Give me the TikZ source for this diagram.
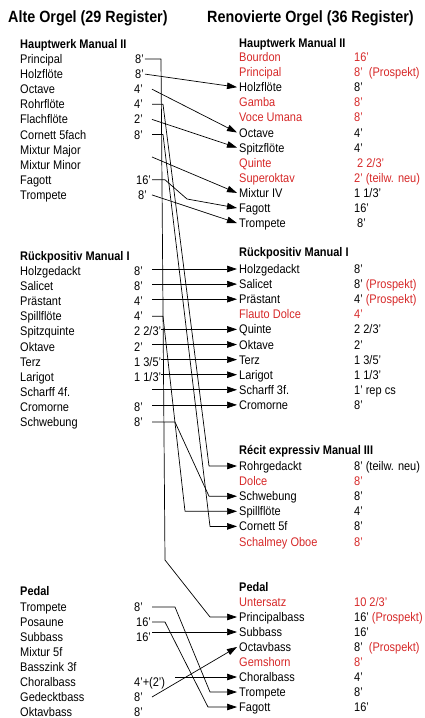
\documentclass[tikz,border=0pt]{standalone}
\usepackage{fontspec}
\setmainfont{Liberation Sans}[FakeStretch=0.88]
\usepackage{tikz}
\usetikzlibrary{arrows.meta}
\definecolor{neurot}{RGB}{214,40,40}

\tikzset{
  reg/.style={anchor=west, inner xsep=0pt, inner ysep=0pt, text height=9pt, text depth=0pt},
  rreg/.style={reg, inner xsep=2pt},
  head/.style={reg, font=\fontsize{12.5}{15}\selectfont\bfseries},
  titel/.style={reg, text height=11.7pt, font=\fontsize{16.3}{19}\selectfont\bfseries},
  neu/.style={text=neurot},
  zug/.style={-{Triangle[length=10pt,width=6.5pt]}, line width=0.7pt, line join=round},
}

\begin{document}
\begin{tikzpicture}[x=1pt, y=-1pt, font=\fontsize{12.5}{15}\selectfont]
\useasboundingbox (0,0) rectangle (425,718);

% titles
\node[titel] (tAlt) at (8,17) {Alte Orgel (29 Register)};
\node[titel] (tNeu) at (207,17) {Renovierte Orgel (36 Register)};

% old organ, Hauptwerk
\node[head] (lhw) at (20,44) {Hauptwerk Manual II};
\node[reg] (lhw1) at (20,59) {Principal};        \node[reg, inner xsep=1pt] (lhw1v) at (134,59) {8'};
\node[reg] (lhw2) at (20,74.1) {Holzflöte};      \node[reg, inner xsep=1pt] (lhw2v) at (134,74.1) {8'};
\node[reg] (lhw3) at (20,89.2) {Octave};         \node[reg] (lhw3v) at (134,89.2) {4'};
\node[reg] (lhw4) at (20,104.3) {Rohrflöte};     \node[reg] (lhw4v) at (134,104.3) {4'};
\node[reg] (lhw5) at (20,119.4) {Flachflöte};    \node[reg] (lhw5v) at (134,119.4) {2'};
\node[reg] (lhw6) at (20,134.5) {Cornett 5fach}; \node[reg] (lhw6v) at (134,134.5) {8'};
\node[reg] (lhw7) at (20,149.6) {Mixtur Major};
\node[reg] (lhw8) at (20,164.7) {Mixtur Minor};
\node[reg] (lhw9) at (20,179.8) {Fagott};        \node[reg] (lhw9v) at (136,179.8) {16'};
\node[reg] (lhw10) at (20,194.9) {Trompete};     \node[reg] (lhw10v) at (138,194.9) {8'};
\coordinate (lmix) at (152,157);

% old organ, Rueckpositiv
\node[head] (lrp) at (20,256) {Rückpositiv Manual I};
\node[reg] (lrp1) at (20,271) {Holzgedackt};     \node[reg] (lrp1v) at (134,271) {8'};
\node[reg] (lrp2) at (20,286.1) {Salicet};       \node[reg] (lrp2v) at (134,286.1) {8'};
\node[reg] (lrp3) at (20,301.2) {Prästant};      \node[reg] (lrp3v) at (134,301.2) {4'};
\node[reg] (lrp4) at (20,316.3) {Spillflöte};    \node[reg] (lrp4v) at (134,316.3) {4'};
\node[reg] (lrp5) at (20,331.4) {Spitzquinte};   \node[reg] (lrp5v) at (134,331.4) {2 2/3'};
\node[reg] (lrp6) at (20,346.5) {Oktave};        \node[reg] (lrp6v) at (134,346.5) {2'};
\node[reg] (lrp7) at (20,361.6) {Terz};          \node[reg] (lrp7v) at (134,361.6) {1 3/5'};
\node[reg] (lrp8) at (20,376.7) {Larigot};       \node[reg] (lrp8v) at (134,376.7) {1 1/3'};
\node[reg] (lrp9) at (20,391.8) {Scharff 4f.};
\node[reg] (lrp10) at (20,406.9) {Cromorne};     \node[reg] (lrp10v) at (134,406.9) {8'};
\node[reg] (lrp11) at (20,422) {Schwebung};      \node[reg] (lrp11v) at (134,422) {8'};

% old organ, Pedal
\node[head] (lpd) at (20,591) {Pedal};
\node[reg] (lpd1) at (20,607) {Trompete};        \node[reg] (lpd1v) at (134,607) {8'};
\node[reg] (lpd2) at (20,622) {Posaune};         \node[reg] (lpd2v) at (136,622) {16'};
\node[reg] (lpd3) at (20,637) {Subbass};         \node[reg] (lpd3v) at (136,637) {16'};
\node[reg] (lpd4) at (20,652) {Mixtur 5f};
\node[reg] (lpd5) at (20,667) {Basszink 3f};
\node[reg] (lpd6) at (20,682) {Choralbass};      \node[reg] (lpd6v) at (134,682) {4'+(2')};
\node[reg] (lpd7) at (20,697) {Gedecktbass};     \node[reg] (lpd7v) at (134,697) {8'};
\node[reg] (lpd8) at (20,712) {Oktavbass};       \node[reg] (lpd8v) at (134,712) {8'};

% new organ, Hauptwerk
\node[head] (rhw) at (239,43) {Hauptwerk Manual II};
\node[rreg, neu] (rhw1) at (237,57) {Bourdon};        \node[reg, neu] (rhw1v) at (354,57) {16'};
\node[rreg, neu] (rhw2) at (237,72.1) {Principal};    \node[reg, neu] (rhw2v) at (354,72.1) {8'\ \ (Prospekt)};
\node[rreg] (rhw3) at (237,87.2) {Holzflöte};         \node[reg] (rhw3v) at (354,87.2) {8'};
\node[rreg, neu] (rhw4) at (237,102.3) {Gamba};       \node[reg, neu] (rhw4v) at (354,102.3) {8'};
\node[rreg, neu] (rhw5) at (237,117.4) {Voce Umana};  \node[reg, neu] (rhw5v) at (354,117.4) {8'};
\node[rreg] (rhw6) at (237,132.5) {Octave};           \node[reg] (rhw6v) at (354,132.5) {4'};
\node[rreg] (rhw7) at (237,147.6) {Spitzflöte};       \node[reg] (rhw7v) at (354,147.6) {4'};
\node[rreg, neu] (rhw8) at (237,162.7) {Quinte};      \node[reg, neu] (rhw8v) at (357,162.7) {2 2/3'};
\node[rreg, neu] (rhw9) at (237,177.8) {Superoktav};  \node[reg, neu] (rhw9v) at (354,177.8) {2' (teilw. neu)};
\node[rreg] (rhw10) at (237,192.9) {Mixtur IV};       \node[reg] (rhw10v) at (354,192.9) {1 1/3'};
\node[rreg] (rhw11) at (237,208) {Fagott};            \node[reg] (rhw11v) at (354,208) {16'};
\node[rreg] (rhw12) at (237,223.1) {Trompete};        \node[reg] (rhw12v) at (357,223.1) {8'};

% new organ, Rueckpositiv
\node[head] (rrp) at (239,252) {Rückpositiv Manual I};
\node[rreg] (rrp1) at (237,269) {Holzgedackt};        \node[reg] (rrp1v) at (354,269) {8'};
\node[rreg] (rrp2) at (237,284.1) {Salicet};          \node[reg] (rrp2v) at (354,284.1) {8' \textcolor{neurot}{(Prospekt)}};
\node[rreg] (rrp3) at (237,299.2) {Prästant};         \node[reg] (rrp3v) at (354,299.2) {4' \textcolor{neurot}{(Prospekt)}};
\node[rreg, neu] (rrp4) at (237,314.3) {Flauto Dolce};\node[reg, neu] (rrp4v) at (354,314.3) {4'};
\node[rreg] (rrp5) at (237,329.4) {Quinte};           \node[reg] (rrp5v) at (354,329.4) {2 2/3'};
\node[rreg] (rrp6) at (237,344.5) {Oktave};           \node[reg] (rrp6v) at (354,344.5) {2'};
\node[rreg] (rrp7) at (237,359.6) {Terz};             \node[reg] (rrp7v) at (354,359.6) {1 3/5'};
\node[rreg] (rrp8) at (237,374.7) {Larigot};          \node[reg] (rrp8v) at (354,374.7) {1 1/3'};
\node[rreg] (rrp9) at (237,389.8) {Scharff 3f.};      \node[reg] (rrp9v) at (354,389.8) {1' rep cs};
\node[rreg] (rrp10) at (237,404.9) {Cromorne};        \node[reg] (rrp10v) at (354,404.9) {8'};

% new organ, Recit
\node[head] (rre) at (239,450) {Récit expressiv Manual III};
\node[rreg] (rre1) at (237,466) {Rohrgedackt};        \node[reg] (rre1v) at (354,466) {8' (teilw. neu)};
\node[rreg, neu] (rre2) at (237,481.1) {Dolce};       \node[reg, neu] (rre2v) at (354,481.1) {8'};
\node[rreg] (rre3) at (237,496.2) {Schwebung};        \node[reg] (rre3v) at (354,496.2) {8'};
\node[rreg] (rre4) at (237,511.3) {Spillflöte};       \node[reg] (rre4v) at (354,511.3) {4'};
\node[rreg] (rre5) at (237,526.4) {Cornett 5f};       \node[reg] (rre5v) at (354,526.4) {8'};
\node[rreg, neu] (rre6) at (237,541.5) {Schalmey Oboe};\node[reg, neu] (rre6v) at (354,541.5) {8'};

% new organ, Pedal
\node[head] (rpd) at (239,587) {Pedal};
\node[rreg, neu] (rpd1) at (237,602) {Untersatz};     \node[reg, neu] (rpd1v) at (354,602) {10 2/3'};
\node[rreg] (rpd2) at (237,617) {Principalbass};      \node[reg] (rpd2v) at (354,617) {16' \textcolor{neurot}{(Prospekt)}};
\node[rreg] (rpd3) at (237,632) {Subbass};            \node[reg] (rpd3v) at (354,632) {16'};
\node[rreg] (rpd4) at (237,647) {Octavbass};          \node[reg] (rpd4v) at (354,647) {8'\ \ \textcolor{neurot}{(Prospekt)}};
\node[rreg, neu] (rpd5) at (237,662) {Gemshorn};      \node[reg, neu] (rpd5v) at (354,662) {8'};
\node[rreg] (rpd6) at (237,677) {Choralbass};         \node[reg] (rpd6v) at (354,677) {4'};
\node[rreg] (rpd7) at (237,692) {Trompete};           \node[reg] (rpd7v) at (354,692) {8'};
\node[rreg] (rpd8) at (237,707) {Fagott};             \node[reg] (rpd8v) at (354,707) {16'};

% start columns of the connectors
\coordinate (lout) at (152,0);
\coordinate (lknick) at (175,0);

% Hauptwerk
\draw[zug] (lhw1v.east) -- (161,59) -- (165,560) -- (210,617) -- (rpd2.west);
\draw[zug] (lhw2v.east) -- (rhw3.west);
\draw[zug] (lhw3v -| lout) -- (rhw6.west);
\draw[zug] (lhw4v -| lout) -- (163,104.3) -- (209,466) -- (rre1.west);
\draw[zug] (lhw5v -| lout) -- (rhw7.west);
\draw[zug] (lhw6v -| lout) -- (163,134.5) -- (210,526.4) -- (rre5.west);
\draw[zug] (lmix) -- (rhw10.west);
\draw[zug] (lhw9v -| lout) -- (165,179.8) -- (187,199) -- (rhw11.west);
\draw[zug] (lhw10v -| lout) -- (rhw12.west);

% Rueckpositiv
\draw[zug] (rrp1.west -| lout) -- (rrp1.west);
\draw[zug] (rrp2.west -| lout) -- (rrp2.west);
\draw[zug] (rrp3.west -| lout) -- (rrp3.west);
\draw[zug] (lrp4v -| lout) -- (163,316.3) -- (185,511.3) -- (rre4.west);
\draw[zug] (rrp5.west -| lrp5v.east) -- (rrp5.west);
\draw[zug] (rrp6.west -| lout) -- (rrp6.west);
\draw[zug] (rrp7.west -| lrp7v.east) -- (rrp7.west);
\draw[zug] (rrp8.west -| lrp8v.east) -- (rrp8.west);
\draw[zug] (rrp9.west -| lout) -- (rrp9.west);
\draw[zug] (rrp10.west -| lout) -- (rrp10.west);
\draw[zug] (lrp11v -| lout) -- (175,422) -- (209,496.2) -- (rre3.west);

% Pedal
\draw[zug] (lpd1v -| lout) -- (175,607) -- (210,692) -- (rpd7.west);
\draw[zug] (lpd2v -| lout) -- (165,622) -- (208,707) -- (rpd8.west);
\draw[zug] (rpd3.west -| lout) -- (rpd3.west);
\draw[zug] (rpd6.west -| lknick) -- (rpd6.west);
\draw[zug] (lpd7v -| lout) -- (rpd4.west);
\end{tikzpicture}
\end{document}
